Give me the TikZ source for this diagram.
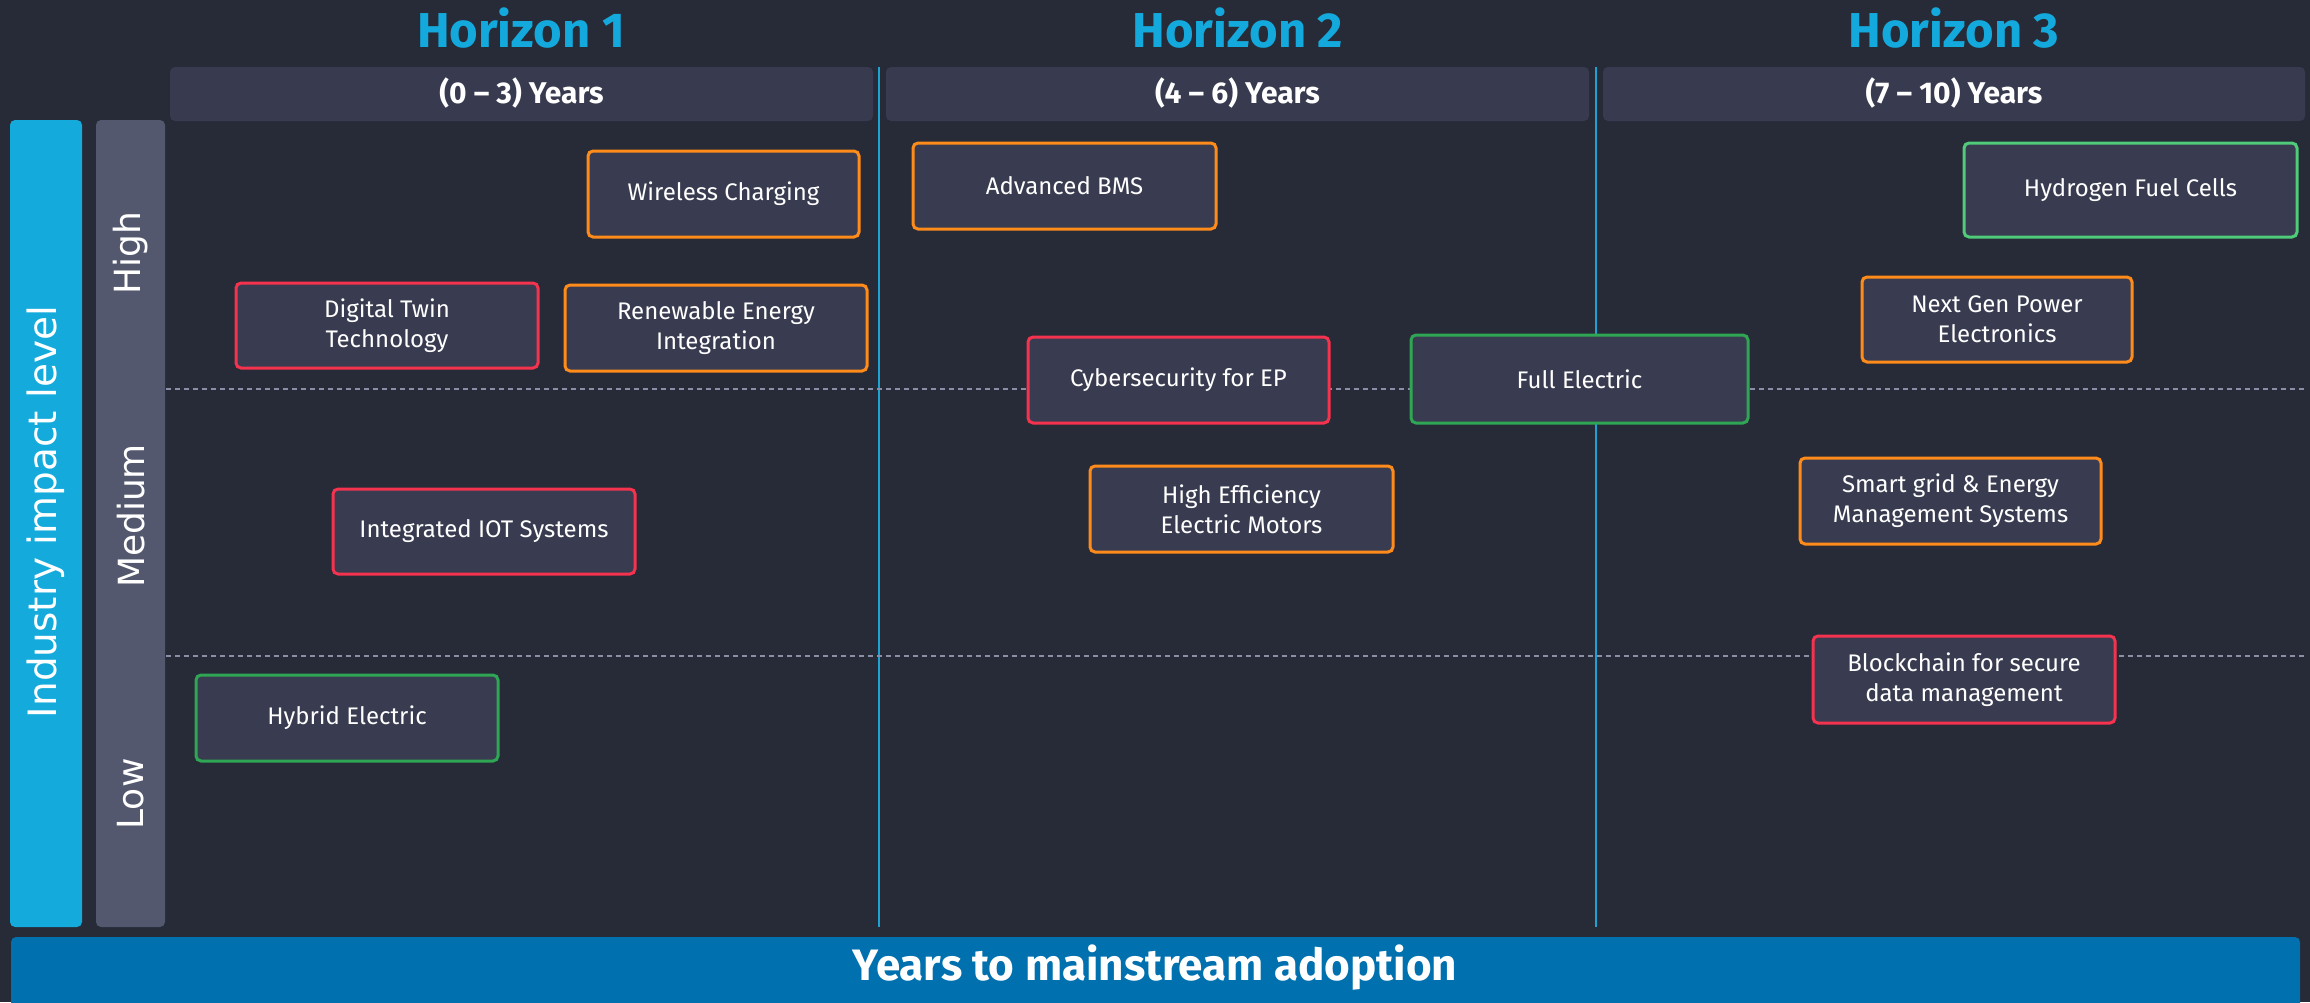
\documentclass[tikz,border=0pt]{standalone}
\usepackage{fontspec}
\setmainfont{Fira Sans}
\newfontfamily\axisfont{DejaVu Sans}
\definecolor{bg}{HTML}{272A37}
\definecolor{boxfill}{HTML}{393C50}
\definecolor{headfill}{HTML}{383B4F}
\definecolor{graybar}{HTML}{54586F}
\definecolor{bluebar}{HTML}{14ABDC}
\definecolor{bottombar}{HTML}{0070AE}
\definecolor{horiz}{HTML}{14A9DC}
\definecolor{vline}{HTML}{1EA2D4}
\definecolor{dashc}{HTML}{8A8EA6}
\definecolor{corange}{HTML}{FF8C1A}
\definecolor{cred}{HTML}{F5334F}
\definecolor{cgreen}{HTML}{2EA653}
\definecolor{clgreen}{HTML}{4FCB7A}
\begin{document}
\begin{tikzpicture}[x=1pt,y=-1pt,
  tbox/.style={draw=#1, fill=boxfill, line width=3pt, rounded corners=5pt,
    text=white, align=center, inner sep=0pt,
    font=\fontsize{24}{30}\selectfont},
  headbar/.style={fill=headfill, rounded corners=5pt},
  headtext/.style={text=white, font=\fontsize{30}{34}\selectfont\bfseries},
  horizon/.style={text=horiz, font=\fontsize{49}{54}\selectfont\bfseries},
  levtext/.style={text=white, rotate=90, font=\axisfont\fontsize{36}{40}\selectfont},
  gridv/.style={draw=vline, line width=2pt},
  gridh/.style={draw=dashc, line width=1.2pt, dash pattern=on 5pt off 4pt}
]
\useasboundingbox (0,0) rectangle (2310,1002);
\clip (0,0) rectangle (2310,1002);
\fill[bg] (0,0) rectangle (2310,1002);

% horizon titles
\node[horizon] (h1) at (521,28) {Horizon 1};
\node[horizon] (h2) at (1238,28) {Horizon 2};
\node[horizon] (h3) at (1954,28) {Horizon 3};

% header bars
\fill[headfill, rounded corners=5pt] (170,67) rectangle (873,121);
\fill[headfill, rounded corners=5pt] (886,67) rectangle (1589,121);
\fill[headfill, rounded corners=5pt] (1603,67) rectangle (2305,121);
\node[headtext] (y1) at (521.5,93) {(0 -- 3) Years};
\node[headtext] (y2) at (1237.5,93) {(4 -- 6) Years};
\node[headtext] (y3) at (1954,93) {(7 -- 10) Years};

% left bars
\fill[bluebar, rounded corners=5pt] (10,120) rectangle (82,927);
\fill[graybar, rounded corners=5pt] (96,120) rectangle (165,927);
\node[text=white, rotate=90, font=\axisfont\fontsize{39}{44}\selectfont] (axis) at (46,512) {Industry impact level};
\node[levtext] (lhigh) at (131,253) {High};
\node[levtext] (lmed) at (131,516) {Medium};
\node[levtext] (llow) at (131,794) {Low};

% bottom bar
\fill[bottombar, rounded corners=5pt] (11,937) rectangle (2300,1020);
\node[text=white, font=\fontsize{44}{48}\selectfont\bfseries] (xaxis) at (1155,968) {Years to mainstream adoption};

% grid lines
\coordinate (v1t) at (879,67); \coordinate (v1b) at (879,927);
\coordinate (v2t) at (1596,67); \coordinate (v2b) at (1596,927);
\draw[gridv] (v1t) -- (v1b);
\draw[gridv] (v2t) -- (v2b);
\coordinate (d1l) at (166,389); \coordinate (d1r) at (2305,389);
\coordinate (d2l) at (166,656); \coordinate (d2r) at (2305,656);
\draw[gridh] (d1l) -- (d1r);
\draw[gridh] (d2l) -- (d2r);

% technology boxes
\node[tbox=corange, minimum width=271pt, minimum height=86pt] (wc) at (723.5,194) {Wireless Charging};
\node[tbox=cred, minimum width=302pt, minimum height=85pt] (dt) at (387,325.5) {Digital Twin\\Technology};
\node[tbox=corange, minimum width=302pt, minimum height=86pt] (re) at (716,328) {Renewable Energy\\Integration};
\node[tbox=corange, minimum width=303pt, minimum height=86pt] (bms) at (1064.5,186) {Advanced BMS};
\node[tbox=cred, minimum width=301pt, minimum height=86pt] (cy) at (1178.5,380) {Cybersecurity for EP};
\node[tbox=cgreen, minimum width=337pt, minimum height=88pt] (fe) at (1579.5,379) {Full Electric};
\node[tbox=clgreen, minimum width=333pt, minimum height=94pt] (hy) at (2130.5,190) {Hydrogen Fuel Cells};
\node[tbox=corange, minimum width=270pt, minimum height=85pt] (ng) at (1997,319.5) {Next Gen Power\\Electronics};
\node[tbox=cred, minimum width=302pt, minimum height=85pt] (iot) at (484,531.5) {Integrated IOT Systems};
\node[tbox=corange, minimum width=303pt, minimum height=86pt] (hem) at (1241.5,509) {High Efficiency\\Electric Motors};
\node[tbox=corange, minimum width=301pt, minimum height=86pt] (sg) at (1950.5,501) {Smart grid \& Energy\\Management Systems};
\node[tbox=cgreen, minimum width=302pt, minimum height=86pt] (he) at (347,718) {Hybrid Electric};
\node[tbox=cred, minimum width=302pt, minimum height=87pt] (bc) at (1964,679.5) {Blockchain for secure\\data management};
\end{tikzpicture}
\end{document}
